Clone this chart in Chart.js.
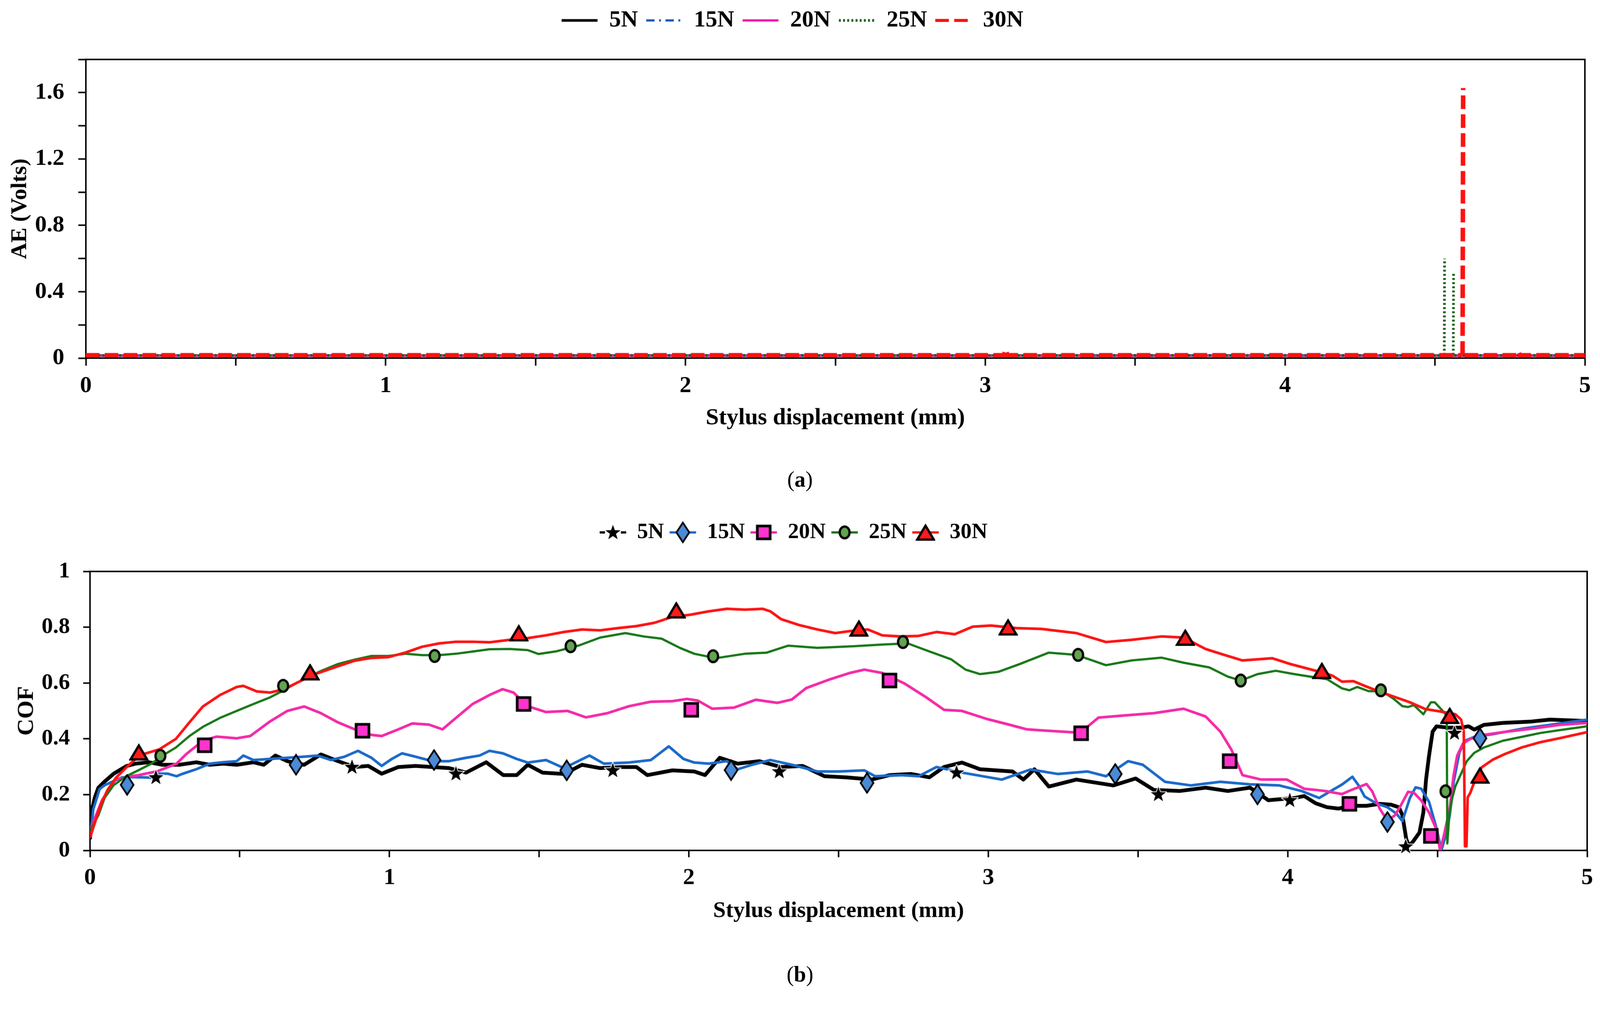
<!DOCTYPE html>
<html lang="en">
<head>
<meta charset="UTF-8">
<title>AE and COF vs stylus displacement</title>
<script src="https://cdn.jsdelivr.net/npm/chart.js"></script>
<style>
  html, body { margin: 0; background: #fff; overflow: hidden; font-family: 'Liberation Serif', 'Times New Roman', serif; }
  #page { position: absolute; left: 0; top: 0; width: 4231px; height: 2637px; transform-origin: 0 0; }
  canvas { position: absolute; left: 0; }
  .cap { position: absolute; left: 0; width: 4231px; text-align: center; font-size: 58px; line-height: 76px; color: #000; }
</style>
</head>
<body>
<div id="page">
  <canvas id="chartA" width="4231" height="1147" style="top:0px"></canvas>
  <canvas id="chartB" width="4231" height="1120" style="top:1330px"></canvas>
  <div class="cap" style="top:1230px">(<b>a</b>)</div>
  <div class="cap" style="top:2539px">(<b>b</b>)</div>
</div>
<script>
// fit the 4231x2637 page into whatever viewport we get
const fit = Math.min(window.innerWidth / 4231, window.innerHeight / 2637);
document.getElementById('page').style.transform = 'scale(' + fit + ')';

// ---------- (a) AE signal, Volts ----------
const loads = ['5N', '15N', '20N', '25N', '30N'];

const ae5x = [0, 5];
const ae5y = [0.015, 0.015];
const ae15x = [0, 5];
const ae15y = [0.017, 0.017];
const ae20x = [0, 5];
const ae20y = [0.014, 0.014];
// null = break in the trace
const ae25x = [0, 4.528, 4.529, 4.531, 4.532, 4.533, 4.535, 4.558, 4.559, 4.561, 4.562, 4.563, 4.565, 5];
const ae25y = [0.016, 0.016, null, 0.02, 0.6, null, 0.016, 0.016, null, 0.02, 0.508, null, 0.016, 0.016];
const ae30x = [0, 3.062, 3.068, 3.074, 4.588, 4.589, 4.592, 4.594, 4.596, 4.599, 4.775, 4.779, 4.783, 5];
const ae30y = [0.017, 0.017, 0.05, 0.017, 0.017, null, 0.02, 1.628, null, 0.017, 0.017, 0.035, 0.017, 0.017];

// ---------- (b) COF ----------
const cof5x = [0, 0.003, 0.009, 0.016, 0.028, 0.049, 0.079, 0.121, 0.152, 0.197, 0.242, 0.298, 0.355, 0.4, 0.445, 0.49, 0.546, 0.58, 0.619, 0.659, 0.715, 0.771, 0.828, 0.884, 0.929, 0.974, 1.03, 1.087, 1.143, 1.199, 1.256, 1.323, 1.38, 1.425, 1.462, 1.511, 1.583, 1.643, 1.704, 1.776, 1.825, 1.861, 1.945, 2.018, 2.054, 2.103, 2.163, 2.235, 2.308, 2.38, 2.453, 2.525, 2.61, 2.67, 2.743, 2.803, 2.852, 2.912, 2.972, 3.081, 3.117, 3.154, 3.202, 3.294, 3.418, 3.492, 3.553, 3.639, 3.726, 3.8, 3.874, 3.935, 4.022, 4.055, 4.093, 4.131, 4.169, 4.213, 4.263, 4.307, 4.345, 4.371, 4.383, 4.396, 4.405, 4.418, 4.44, 4.453, 4.462, 4.472, 4.484, 4.497, 4.535, 4.579, 4.604, 4.623, 4.655, 4.718, 4.813, 4.876, 5.0];
const cof5y = [0.04, 0.09, 0.157, 0.189, 0.225, 0.247, 0.275, 0.302, 0.311, 0.316, 0.307, 0.307, 0.316, 0.307, 0.311, 0.307, 0.316, 0.307, 0.34, 0.32, 0.307, 0.344, 0.32, 0.299, 0.303, 0.275, 0.299, 0.303, 0.299, 0.295, 0.279, 0.316, 0.27, 0.27, 0.307, 0.279, 0.274, 0.307, 0.295, 0.299, 0.299, 0.27, 0.287, 0.283, 0.27, 0.332, 0.311, 0.32, 0.299, 0.303, 0.266, 0.262, 0.254, 0.27, 0.274, 0.262, 0.299, 0.315, 0.291, 0.283, 0.254, 0.291, 0.229, 0.254, 0.233, 0.258, 0.217, 0.213, 0.225, 0.213, 0.225, 0.18, 0.188, 0.195, 0.169, 0.155, 0.15, 0.16, 0.16, 0.167, 0.164, 0.155, 0.126, 0.04, 0.017, 0.031, 0.064, 0.136, 0.255, 0.34, 0.426, 0.445, 0.44, 0.44, 0.445, 0.433, 0.45, 0.457, 0.462, 0.469, 0.464];

const cof15x = [0, 0.003, 0.011, 0.032, 0.049, 0.107, 0.142, 0.205, 0.231, 0.26, 0.289, 0.31, 0.355, 0.4, 0.445, 0.49, 0.512, 0.546, 0.602, 0.659, 0.715, 0.76, 0.805, 0.85, 0.895, 0.94, 0.974, 1.008, 1.042, 1.087, 1.143, 1.199, 1.256, 1.301, 1.334, 1.379, 1.425, 1.462, 1.523, 1.583, 1.668, 1.716, 1.8, 1.873, 1.933, 1.982, 2.018, 2.066, 2.127, 2.163, 2.211, 2.272, 2.344, 2.429, 2.501, 2.586, 2.622, 2.707, 2.767, 2.827, 2.912, 3.045, 3.141, 3.233, 3.331, 3.393, 3.467, 3.516, 3.59, 3.677, 3.775, 3.874, 3.972, 4.046, 4.105, 4.15, 4.181, 4.216, 4.238, 4.257, 4.295, 4.333, 4.364, 4.383, 4.408, 4.427, 4.446, 4.472, 4.497, 4.513, 4.528, 4.541, 4.554, 4.573, 4.592, 4.623, 4.686, 4.781, 4.876, 5.0];
const cof15y = [0.06, 0.067, 0.148, 0.22, 0.234, 0.262, 0.263, 0.261, 0.275, 0.275, 0.266, 0.275, 0.291, 0.311, 0.316, 0.32, 0.34, 0.324, 0.328, 0.332, 0.336, 0.34, 0.324, 0.336, 0.357, 0.332, 0.303, 0.328, 0.348, 0.336, 0.32, 0.32, 0.332, 0.34, 0.357, 0.348, 0.328, 0.315, 0.324, 0.295, 0.34, 0.311, 0.315, 0.324, 0.373, 0.328, 0.315, 0.311, 0.32, 0.291, 0.307, 0.324, 0.307, 0.283, 0.283, 0.287, 0.266, 0.27, 0.266, 0.299, 0.279, 0.254, 0.29, 0.274, 0.283, 0.266, 0.32, 0.307, 0.246, 0.233, 0.246, 0.237, 0.233, 0.213, 0.188, 0.217, 0.236, 0.264, 0.231, 0.193, 0.169, 0.155, 0.131, 0.105, 0.188, 0.226, 0.221, 0.174, 0.079, 0.0, 0.055, 0.126, 0.245, 0.35, 0.393, 0.407, 0.417, 0.436, 0.45, 0.469];

const cof20x = [0, 0.003, 0.04, 0.085, 0.13, 0.163, 0.226, 0.289, 0.321, 0.377, 0.422, 0.49, 0.535, 0.602, 0.659, 0.715, 0.771, 0.828, 0.884, 0.94, 0.974, 1.03, 1.076, 1.132, 1.177, 1.222, 1.278, 1.334, 1.378, 1.414, 1.462, 1.523, 1.595, 1.656, 1.728, 1.8, 1.873, 1.945, 1.994, 2.03, 2.078, 2.151, 2.223, 2.296, 2.344, 2.392, 2.465, 2.537, 2.586, 2.646, 2.719, 2.791, 2.852, 2.912, 2.996, 3.069, 3.129, 3.183, 3.307, 3.368, 3.455, 3.553, 3.652, 3.726, 3.775, 3.812, 3.849, 3.911, 3.997, 4.055, 4.093, 4.131, 4.181, 4.213, 4.263, 4.282, 4.307, 4.333, 4.358, 4.377, 4.402, 4.421, 4.446, 4.472, 4.497, 4.509, 4.522, 4.541, 4.554, 4.566, 4.585, 4.61, 4.655, 4.718, 4.813, 4.907, 5.0];
const cof20y = [0.06, 0.08, 0.18, 0.254, 0.265, 0.27, 0.284, 0.311, 0.345, 0.393, 0.408, 0.402, 0.41, 0.463, 0.5, 0.516, 0.492, 0.459, 0.434, 0.414, 0.41, 0.434, 0.455, 0.451, 0.434, 0.475, 0.525, 0.557, 0.578, 0.566, 0.517, 0.496, 0.5, 0.477, 0.492, 0.517, 0.533, 0.535, 0.543, 0.537, 0.508, 0.512, 0.54, 0.529, 0.541, 0.582, 0.611, 0.636, 0.648, 0.636, 0.599, 0.55, 0.504, 0.5, 0.471, 0.451, 0.434, 0.43, 0.422, 0.476, 0.484, 0.492, 0.508, 0.48, 0.426, 0.361, 0.27, 0.254, 0.254, 0.221, 0.217, 0.212, 0.202, 0.217, 0.238, 0.212, 0.15, 0.107, 0.126, 0.16, 0.21, 0.207, 0.179, 0.136, 0.074, 0.0, 0.055, 0.15, 0.269, 0.34, 0.383, 0.4, 0.414, 0.424, 0.436, 0.45, 0.457];

const cof25x = [0, 0.007, 0.028, 0.049, 0.079, 0.121, 0.163, 0.205, 0.236, 0.287, 0.332, 0.377, 0.434, 0.49, 0.546, 0.602, 0.647, 0.715, 0.771, 0.828, 0.884, 0.94, 0.997, 1.053, 1.109, 1.166, 1.222, 1.278, 1.334, 1.402, 1.462, 1.498, 1.559, 1.631, 1.704, 1.788, 1.849, 1.909, 1.97, 2.018, 2.09, 2.187, 2.26, 2.332, 2.429, 2.55, 2.646, 2.731, 2.791, 2.876, 2.924, 2.972, 3.033, 3.105, 3.202, 3.294, 3.393, 3.479, 3.578, 3.652, 3.738, 3.8, 3.843, 3.899, 3.96, 4.022, 4.086, 4.131, 4.181, 4.206, 4.232, 4.27, 4.314, 4.352, 4.383, 4.402, 4.421, 4.453, 4.478, 4.491, 4.516, 4.531, 4.533, 4.54, 4.55, 4.56, 4.579, 4.598, 4.623, 4.655, 4.718, 4.781, 4.844, 4.907, 5.0];
const cof25y = [0.07, 0.085, 0.126, 0.189, 0.234, 0.266, 0.288, 0.311, 0.336, 0.369, 0.41, 0.443, 0.475, 0.5, 0.525, 0.549, 0.574, 0.615, 0.643, 0.668, 0.684, 0.697, 0.697, 0.705, 0.7, 0.7, 0.705, 0.713, 0.721, 0.722, 0.718, 0.704, 0.714, 0.734, 0.763, 0.779, 0.767, 0.759, 0.726, 0.705, 0.689, 0.705, 0.709, 0.734, 0.726, 0.732, 0.738, 0.742, 0.718, 0.685, 0.648, 0.632, 0.64, 0.668, 0.709, 0.701, 0.664, 0.681, 0.691, 0.673, 0.656, 0.623, 0.609, 0.632, 0.644, 0.632, 0.621, 0.614, 0.581, 0.574, 0.586, 0.571, 0.571, 0.545, 0.517, 0.514, 0.521, 0.488, 0.531, 0.531, 0.502, 0.483, 0.025, 0.13, 0.19, 0.23, 0.275, 0.32, 0.35, 0.369, 0.393, 0.407, 0.421, 0.431, 0.445];

const cof30x = [0, 0.003, 0.02, 0.037, 0.058, 0.087, 0.121, 0.146, 0.175, 0.231, 0.287, 0.332, 0.377, 0.434, 0.49, 0.512, 0.557, 0.602, 0.648, 0.693, 0.749, 0.828, 0.884, 0.94, 0.997, 1.053, 1.109, 1.166, 1.222, 1.278, 1.334, 1.402, 1.462, 1.523, 1.583, 1.643, 1.704, 1.764, 1.825, 1.885, 1.945, 2.006, 2.066, 2.127, 2.187, 2.247, 2.272, 2.308, 2.368, 2.429, 2.489, 2.537, 2.598, 2.646, 2.706, 2.767, 2.827, 2.888, 2.948, 3.009, 3.093, 3.178, 3.294, 3.393, 3.479, 3.578, 3.652, 3.726, 3.788, 3.849, 3.948, 4.009, 4.055, 4.115, 4.15, 4.181, 4.219, 4.257, 4.307, 4.358, 4.408, 4.459, 4.509, 4.56, 4.579, 4.588, 4.592, 4.597, 4.601, 4.61, 4.623, 4.648, 4.686, 4.724, 4.781, 4.844, 4.907, 4.97, 5.0];
const cof30y = [0.045, 0.055, 0.112, 0.166, 0.216, 0.261, 0.297, 0.322, 0.344, 0.362, 0.4, 0.459, 0.516, 0.557, 0.586, 0.59, 0.57, 0.566, 0.578, 0.602, 0.631, 0.66, 0.68, 0.69, 0.693, 0.709, 0.73, 0.742, 0.748, 0.748, 0.746, 0.755, 0.761, 0.771, 0.783, 0.792, 0.789, 0.797, 0.804, 0.816, 0.837, 0.845, 0.857, 0.866, 0.863, 0.866, 0.857, 0.829, 0.808, 0.792, 0.779, 0.786, 0.792, 0.771, 0.767, 0.769, 0.783, 0.775, 0.802, 0.806, 0.797, 0.794, 0.779, 0.747, 0.755, 0.767, 0.763, 0.722, 0.701, 0.681, 0.689, 0.668, 0.655, 0.638, 0.626, 0.605, 0.607, 0.59, 0.569, 0.55, 0.531, 0.507, 0.498, 0.488, 0.469, 0.426, 0.015, 0.015, 0.19, 0.207, 0.245, 0.298, 0.326, 0.345, 0.369, 0.388, 0.402, 0.417, 0.424];

// marker positions on each COF trace
const mk5x = [0.22, 0.875, 1.222, 1.746, 2.302, 2.894, 3.568, 4.007, 4.394, 4.557];
const mk5y = [0.262, 0.299, 0.275, 0.287, 0.283, 0.279, 0.201, 0.18, 0.014, 0.421];
const mk15x = [0.124, 0.688, 1.149, 1.592, 2.141, 2.595, 3.424, 3.899, 4.333, 4.642];
const mk15y = [0.235, 0.307, 0.324, 0.287, 0.288, 0.242, 0.274, 0.201, 0.102, 0.402];
const mk20x = [0.383, 0.91, 1.448, 2.008, 2.67, 3.31, 3.806, 4.206, 4.478];
const mk20y = [0.377, 0.429, 0.525, 0.504, 0.609, 0.42, 0.32, 0.167, 0.052];
const mk25x = [0.235, 0.645, 1.151, 1.605, 2.081, 2.715, 3.3, 3.843, 4.311, 4.527];
const mk25y = [0.339, 0.59, 0.697, 0.732, 0.696, 0.747, 0.701, 0.609, 0.574, 0.212];
const mk30x = [0.163, 0.735, 1.432, 1.958, 2.568, 3.066, 3.658, 4.114, 4.541, 4.642];
const mk30y = [0.352, 0.639, 0.779, 0.861, 0.796, 0.8, 0.763, 0.644, 0.483, 0.269];

function xy(xs, ys) {
  return xs.map((x, i) => ({ x: x, y: ys[i] }));
}

Chart.defaults.font.family = "'Liberation Serif', 'Times New Roman', serif";
Chart.defaults.color = '#000';

// marker glyphs
function marker(kind) {
  const c = document.createElement('canvas');
  const g = c.getContext('2d');
  g.lineJoin = 'miter';
  if (kind === 'star') {
    c.width = 46; c.height = 44;
    g.beginPath();
    for (let i = 0; i < 10; i++) {
      const r = i % 2 ? 8.5 : 21;
      const a = -Math.PI / 2 + i * Math.PI / 5;
      g.lineTo(23 + r * Math.cos(a), 23 + r * Math.sin(a));
    }
    g.closePath();
    g.strokeStyle = '#fff'; g.lineWidth = 4; g.stroke();
    g.fillStyle = '#000'; g.fill();
  } else if (kind === 'diamond') {
    c.width = 40; c.height = 58;
    g.beginPath();
    g.moveTo(20, 3); g.lineTo(37, 29); g.lineTo(20, 55); g.lineTo(3, 29); g.closePath();
    g.fillStyle = '#4a8ad6'; g.fill();
    g.strokeStyle = '#000'; g.lineWidth = 4.5; g.stroke();
  } else if (kind === 'square') {
    c.width = 44; c.height = 44;
    g.fillStyle = '#ff33cc'; g.fillRect(5, 5, 34, 34);
    g.strokeStyle = '#000'; g.lineWidth = 7; g.strokeRect(5, 5, 34, 34);
  } else if (kind === 'circle') {
    c.width = 36; c.height = 40;
    g.beginPath();
    g.ellipse(18, 20, 13, 15.5, 0, 0, Math.PI * 2);
    g.fillStyle = '#63a352'; g.fill();
    g.strokeStyle = '#000'; g.lineWidth = 6; g.stroke();
  } else {
    c.width = 52; c.height = 46;
    g.beginPath();
    g.moveTo(26, 5); g.lineTo(48, 42); g.lineTo(4, 42); g.closePath();
    g.fillStyle = '#ff1a1a'; g.fill();
    g.strokeStyle = '#000'; g.lineWidth = 6; g.stroke();
  }
  return c;
}

// closes the plot box (top and right sides)
const frame = {
  id: 'frame',
  beforeDatasetsDraw(chart) {
    const { ctx, chartArea: a } = chart;
    ctx.save();
    ctx.strokeStyle = '#000';
    ctx.lineWidth = 4;
    ctx.strokeRect(a.left, a.top, a.right - a.left, a.bottom - a.top);
    ctx.restore();
  }
};

function axisX(h, pad, tl, titleSize, titlePad) {
  return {
    type: 'linear', min: 0, max: 5,
    afterFit: (s) => { s.height = h; },
    ticks: {
      stepSize: 0.5, autoSkip: false, maxRotation: 0, padding: pad,
      font: { size: 62, weight: 'bold' },
      callback: (v) => Math.abs(v - Math.round(v)) < 1e-6 ? String(Math.round(v)) : ''
    },
    grid: { drawOnChartArea: false, color: '#000', tickLength: tl, tickWidth: 4 },
    border: { color: '#000', width: 4 },
    title: { display: true, text: 'Stylus displacement (mm)', font: { size: titleSize, weight: 'bold' }, padding: { top: 0, bottom: titlePad } }
  };
}

// ---------- chart (a) ----------
const aeCols = ['#000000', '#1f5cb8', '#f21aa6', '#0d5e0d', '#ff1010'];
const aeData = [xy(ae5x, ae5y), xy(ae15x, ae15y), xy(ae20x, ae20y), xy(ae25x, ae25y), xy(ae30x, ae30y)];
const aeDash = [[], [22, 12, 5, 12], [], [5, 6], [36, 14]];
const aeWidth = [7, 6, 6, 7, 12];

new Chart(document.getElementById('chartA'), {
  type: 'scatter',
  data: {
    datasets: loads.map((name, i) => ({
      label: name,
      data: aeData[i],
      showLine: true,
      pointRadius: 0,
      pointHoverRadius: 0,
      borderColor: aeCols[i],
      backgroundColor: aeCols[i],
      borderWidth: aeWidth[i],
      borderDash: aeDash[i],
      order: 5 - i
    }))
  },
  options: {
    responsive: false,
    animation: false,
    devicePixelRatio: 1,
    layout: { padding: { top: 1, left: 0, right: 40, bottom: 0 } },
    plugins: {
      legend: {
        position: 'top',
        weight: 3000,
        labels: {
          usePointStyle: true, pointStyle: 'line', pointStyleWidth: 95,
          padding: 22, font: { size: 62, weight: 'bold' },
          generateLabels: (chart) => chart.data.datasets.map((ds, i) => ({
            text: ds.label,
            datasetIndex: i,
            fillStyle: ds.borderColor,
            strokeStyle: ds.borderColor,
            lineWidth: Math.min(ds.borderWidth, 8),
            lineDash: ds.borderDash,
            lineCap: 'butt',
            pointStyle: 'line',
            fontColor: '#000',
            hidden: false
          }))
        }
      },
      title: { display: true, text: '', font: { size: 1 }, padding: { top: 0, bottom: 61 } },
      tooltip: { enabled: false }
    },
    scales: {
      x: axisX(200, 17, 20, 62, 4),
      y: {
        type: 'linear', min: 0, max: 1.8,
        afterFit: (s) => { s.width = 227; },
        ticks: {
          stepSize: 0.2, padding: 37,
          font: { size: 62, weight: 'bold' },
          callback: (v) => {
            const k = Math.round(v * 10);
            return (k % 4 === 0 && k <= 16) ? String(k / 10) : '';
          }
        },
        grid: { drawOnChartArea: false, color: '#000', tickLength: 20, tickWidth: 4 },
        border: { color: '#000', width: 4 },
        title: { display: true, text: 'AE (Volts)', font: { size: 60, weight: 'bold' }, padding: { top: 17, bottom: 0 } }
      }
    }
  },
  plugins: [frame]
});

// ---------- chart (b) ----------
const cofCols = ['#000000', '#1b6ac9', '#f52aa8', '#187818', '#ff1414'];
const cofWidth = [10, 7, 7, 6, 7];
const cofData = [xy(cof5x, cof5y), xy(cof15x, cof15y), xy(cof20x, cof20y), xy(cof25x, cof25y), xy(cof30x, cof30y)];
const mkData = [xy(mk5x, mk5y), xy(mk15x, mk15y), xy(mk20x, mk20y), xy(mk25x, mk25y), xy(mk30x, mk30y)];
const mkGlyph = ['star', 'diamond', 'square', 'circle', 'triangle'].map(marker);

const lineSets = loads.map((name, i) => ({
  label: name,
  data: cofData[i],
  showLine: true,
  pointRadius: 0,
  pointHoverRadius: 0,
  borderColor: cofCols[i],
  backgroundColor: cofCols[i],
  borderWidth: cofWidth[i],
  borderJoinStyle: 'round',
  order: 5 - i + 1
}));
const markerSets = loads.map((name, i) => ({
  label: name,
  data: mkData[i],
  showLine: false,
  pointStyle: mkGlyph[i],
  pointRadius: 20,
  pointHoverRadius: 20,
  borderColor: '#000',
  backgroundColor: cofCols[i],
  clip: false,
  order: 0
}));

// line piece through each legend marker
const legendLines = {
  id: 'legendLines',
  beforeDraw(chart) {
    const lg = chart.legend;
    if (!lg || !lg.legendHitBoxes) return;
    const ctx = chart.ctx;
    lg.legendItems.forEach((item, i) => {
      const hb = lg.legendHitBoxes[i];
      const k = item.datasetIndex - 5;
      const y = hb.top + 29;
      ctx.save();
      ctx.strokeStyle = cofCols[k];
      ctx.lineWidth = 6;
      ctx.beginPath();
      if (k === 0) {
        ctx.moveTo(hb.left, y); ctx.lineTo(hb.left + 14, y);
        ctx.moveTo(hb.left + 56, y); ctx.lineTo(hb.left + 70, y);
      } else {
        ctx.moveTo(hb.left, y); ctx.lineTo(hb.left + 70, y);
      }
      ctx.stroke();
      ctx.restore();
    });
  }
};

new Chart(document.getElementById('chartB'), {
  type: 'scatter',
  data: { datasets: lineSets.concat(markerSets) },
  options: {
    responsive: false,
    animation: false,
    devicePixelRatio: 1,
    layout: { padding: { top: 34, left: 0, right: 34, bottom: 0 } },
    plugins: {
      legend: {
        position: 'top',
        weight: 3000,
        labels: {
          usePointStyle: true, pointStyleWidth: 70,
          padding: 15, font: { size: 58, weight: 'bold' },
          filter: (item) => item.datasetIndex >= 5,
          sort: (a, b) => a.datasetIndex - b.datasetIndex
        }
      },
      title: { display: true, text: '', font: { size: 1 }, padding: { top: 0, bottom: 63 } },
      tooltip: { enabled: false }
    },
    scales: {
      x: axisX(201, 18, 18, 60, 5),
      y: {
        type: 'linear', min: 0, max: 1,
        afterFit: (s) => { s.width = 238; },
        ticks: {
          stepSize: 0.1, padding: 35,
          font: { size: 60, weight: 'bold' },
          callback: (v) => {
            const k = Math.round(v * 10);
            return k % 2 === 0 ? String(k / 10) : '';
          }
        },
        grid: { drawOnChartArea: false, color: '#000', tickLength: 18, tickWidth: 4 },
        border: { color: '#000', width: 4 },
        title: { display: true, text: 'COF', font: { size: 62, weight: 'bold' }, padding: { top: 34, bottom: 0 } }
      }
    }
  },
  plugins: [frame, legendLines]
});
</script>
</body>
</html>
